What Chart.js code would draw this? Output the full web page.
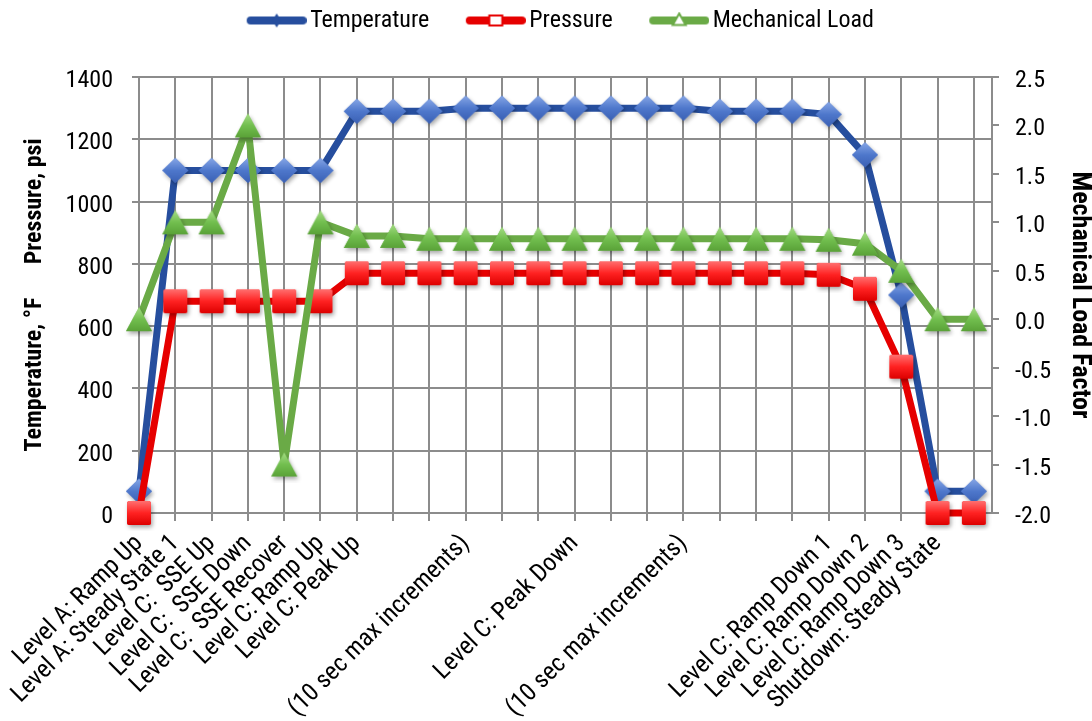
<!DOCTYPE html>
<html><head><meta charset="utf-8">
<script src="https://cdn.jsdelivr.net/npm/chart.js@4.4.1/dist/chart.umd.min.js"></script>
<style>html,body{margin:0;padding:0;background:#fff;}#wrap{width:1092px;height:721px;}</style>
</head><body><div id="wrap"><canvas id="c" width="1092" height="721"></canvas></div>
<script>
const categories = ['Level A: Ramp Up','Level A: Steady State 1','Level C:  SSE Up','Level C:  SSE Down','Level C:  SSE Recover','Level C: Ramp Up','Level C: Peak Up','','','(10 sec max increments)','','','Level C: Peak Down','','','(10 sec max increments)','','','','Level C: Ramp Down 1','Level C: Ramp Down 2','Level C: Ramp Down 3','Shutdown: Steady State',''];
const temperature = [70,1100,1100,1100,1100,1100,1290,1290,1290,1300,1300,1300,1300,1300,1300,1300,1290,1290,1290,1280,1150,700,70,70];
const pressure = [0,680,680,680,680,680,770,770,770,770,770,770,770,770,770,770,770,770,770,765,720,470,0,0];
const mechLoad = [0,1.0,1.0,2.0,-1.5,1.0,0.86,0.86,0.83,0.83,0.83,0.83,0.83,0.83,0.83,0.83,0.83,0.83,0.83,0.82,0.78,0.5,0,0];
const seriesNames = ['Temperature','Pressure','Mechanical Load'];
const leftTicks = [0,200,400,600,800,1000,1200,1400];
const rightTicks = [-2.0,-1.5,-1.0,-0.5,0.0,0.5,1.0,1.5,2.0,2.5];
const leftTitle = 'Temperature, \u00B0F      Pressure, psi';
const rightTitle = 'Mechanical Load Factor';

const FONT = "'Roboto Condensed','Liberation Sans',sans-serif";
const FS = 24;
const GRID = '#8c8c8c';
const BLUE = '#264e9e', RED = '#e60000', GREEN = '#6aaa46';

function markerCanvas(shape, w, h, cTop, cMid, cBot) {
  const pad = 6;
  const cv = document.createElement('canvas');
  cv.width = w + pad * 2; cv.height = h + pad * 2;
  const ctx = cv.getContext('2d');
  const cx = cv.width / 2, cy = cv.height / 2;
  const path = () => {
    ctx.beginPath();
    if (shape === 'diamond') {
      ctx.moveTo(cx, cy - h / 2); ctx.lineTo(cx + w / 2, cy); ctx.lineTo(cx, cy + h / 2); ctx.lineTo(cx - w / 2, cy);
    } else if (shape === 'square') {
      const r = 2.5, x0 = cx - w / 2, y0 = cy - h / 2;
      ctx.moveTo(x0 + r, y0); ctx.lineTo(x0 + w - r, y0); ctx.quadraticCurveTo(x0 + w, y0, x0 + w, y0 + r);
      ctx.lineTo(x0 + w, y0 + h - r); ctx.quadraticCurveTo(x0 + w, y0 + h, x0 + w - r, y0 + h);
      ctx.lineTo(x0 + r, y0 + h); ctx.quadraticCurveTo(x0, y0 + h, x0, y0 + h - r);
      ctx.lineTo(x0, y0 + r); ctx.quadraticCurveTo(x0, y0, x0 + r, y0);
    } else {
      ctx.moveTo(cx, cy - h / 2); ctx.lineTo(cx + w / 2, cy + h / 2); ctx.lineTo(cx - w / 2, cy + h / 2);
    }
    ctx.closePath();
  };
  ctx.save();
  ctx.shadowColor = 'rgba(0,0,0,0.35)'; ctx.shadowBlur = 4; ctx.shadowOffsetX = 1.5; ctx.shadowOffsetY = 2.5;
  path(); ctx.fillStyle = cMid; ctx.fill();
  ctx.restore();
  const g = ctx.createLinearGradient(0, cy - h / 2, 0, cy + h / 2);
  g.addColorStop(0, cTop); g.addColorStop(0.5, cMid); g.addColorStop(1, cBot);
  path(); ctx.fillStyle = g; ctx.fill();
  return cv;
}

const LEG_B = 52;
function legendCanvas(color, marker) {
  const W = LEG_B + 17, H = 18;
  const cv = document.createElement('canvas');
  cv.width = W; cv.height = H;
  const ctx = cv.getContext('2d');
  const y = H / 2;
  ctx.lineCap = 'round'; ctx.lineWidth = 8; ctx.strokeStyle = color;
  ctx.beginPath(); ctx.moveTo(13, y); ctx.lineTo(W - 4, y); ctx.stroke();
  const mx = (9 + W) / 2;
  ctx.lineWidth = 2;
  if (marker === 'diamond') {
    ctx.fillStyle = color;
    ctx.beginPath(); ctx.moveTo(mx, y - 7); ctx.lineTo(mx + 4.5, y); ctx.lineTo(mx, y + 7); ctx.lineTo(mx - 4.5, y); ctx.closePath(); ctx.fill();
  } else if (marker === 'square') {
    ctx.fillStyle = '#fff'; ctx.strokeStyle = color;
    ctx.fillRect(mx - 6.5, y - 5, 13, 10); ctx.strokeRect(mx - 6.5, y - 5, 13, 10);
  } else {
    ctx.fillStyle = '#fff'; ctx.strokeStyle = color;
    ctx.beginPath(); ctx.moveTo(mx, y - 7); ctx.lineTo(mx + 6.5, y + 4.5); ctx.lineTo(mx - 6.5, y + 4.5); ctx.closePath(); ctx.fill(); ctx.stroke();
  }
  return cv;
}

const markers = [
  markerCanvas('diamond', 26, 25, '#86a6e6', '#4f78cc', '#3a60b4'),
  markerCanvas('square', 24, 24, '#ff7070', '#ff2222', '#dd0000'),
  markerCanvas('triangle', 26, 24, '#a6dc86', '#72bf4f', '#5aa238')
];
const legendImgs = [legendCanvas(BLUE, 'diamond'), legendCanvas(RED, 'square'), legendCanvas(GREEN, 'triangle')];

const toXY = arr => arr.map((v, i) => ({x: i, y: v}));

const LEG_P = 36;
new Chart(document.getElementById('c'), {
  type: 'line',
  data: {
    datasets: [
      {label: seriesNames[0], data: toXY(temperature), yAxisID: 'y', borderColor: BLUE, backgroundColor: BLUE, borderWidth: 7, pointStyle: markers[0], pointRadius: 12, order: 2, clip: false},
      {label: seriesNames[1], data: toXY(pressure), yAxisID: 'y', borderColor: RED, backgroundColor: RED, borderWidth: 7, pointStyle: markers[1], pointRadius: 12, order: 1, clip: false},
      {label: seriesNames[2], data: toXY(mechLoad), yAxisID: 'y1', borderColor: GREEN, backgroundColor: GREEN, borderWidth: 7, pointStyle: markers[2], pointRadius: 12, order: 0, clip: false}
    ]
  },
  options: {
    responsive: false,
    animation: false,
    events: [],
    elements: {line: {tension: 0, borderJoinStyle: 'round', borderCapStyle: 'round'}},
    layout: {padding: {left: 28, top: 8.5 - LEG_P, right: 0, bottom: 0}},
    plugins: {
      tooltip: {enabled: false},
      title: {display: true, text: '', font: {size: 10, lineHeight: 1.2}, padding: {top: 0, bottom: 22.5}, weight: 2000},
      legend: {
        position: 'top', weight: 3000, fullSize: true,
        labels: {
          usePointStyle: true, pointStyleWidth: LEG_B, padding: LEG_P, color: '#000',
          font: {family: FONT, size: FS},
          sort: (a, b) => a.datasetIndex - b.datasetIndex,
          generateLabels(chart) {
            const items = Chart.defaults.plugins.legend.labels.generateLabels(chart);
            items.forEach(it => { it.pointStyle = legendImgs[it.datasetIndex]; it.rotation = 0; it.lineWidth = 0; it.strokeStyle = 'rgba(0,0,0,0)'; it.fillStyle = 'rgba(0,0,0,0)'; });
            return items;
          }
        }
      }
    },
    scales: {
      x: {
        type: 'linear', position: 'bottom', min: 0, max: categories.length - 0.5,
        afterFit: s => { s.height = 208; s.paddingLeft = 0; s.paddingRight = 0; },
        grid: {color: GRID, lineWidth: 2, tickLength: 8, tickColor: GRID},
        border: {color: GRID, width: 2},
        ticks: {
          stepSize: 1, includeBounds: false, autoSkip: false, maxTicksLimit: 100,
          minRotation: 45, maxRotation: 45, padding: 8, color: '#000',
          font: {family: FONT, size: 25},
          callback: v => (Number.isInteger(v) && categories[v] !== undefined) ? categories[v] : ''
        }
      },
      y: {
        position: 'left', min: leftTicks[0], max: leftTicks[leftTicks.length - 1],
        afterFit: s => { s.width = 111; },
        grid: {color: GRID, lineWidth: 2, tickLength: 7, tickColor: GRID},
        border: {color: GRID, width: 2},
        ticks: {stepSize: leftTicks[1] - leftTicks[0], padding: 19, labelOffset: 4, color: '#000', font: {family: FONT, size: FS},
          callback: v => String(v)},
        title: {display: true, text: leftTitle, color: '#000', font: {family: FONT, size: FS, weight: 'bold', lineHeight: 0.6}, padding: {top: 0, bottom: 0}}
      },
      y1: {
        position: 'right', min: rightTicks[0], max: rightTicks[rightTicks.length - 1],
        afterFit: s => { s.width = 100; },
        grid: {drawOnChartArea: false, color: GRID, lineWidth: 2, tickLength: 7, tickColor: GRID},
        border: {color: GRID, width: 2},
        ticks: {stepSize: rightTicks[1] - rightTicks[0], padding: 16, labelOffset: 4, color: '#000', font: {family: FONT, size: FS},
          callback: v => Number(v).toFixed(1)},
        title: {display: true, text: rightTitle, color: '#000', font: {family: FONT, size: 26, weight: 'bold', lineHeight: 0.8}, padding: {top: 2, bottom: 0}}
      }
    }
  }
});
</script></body></html>
